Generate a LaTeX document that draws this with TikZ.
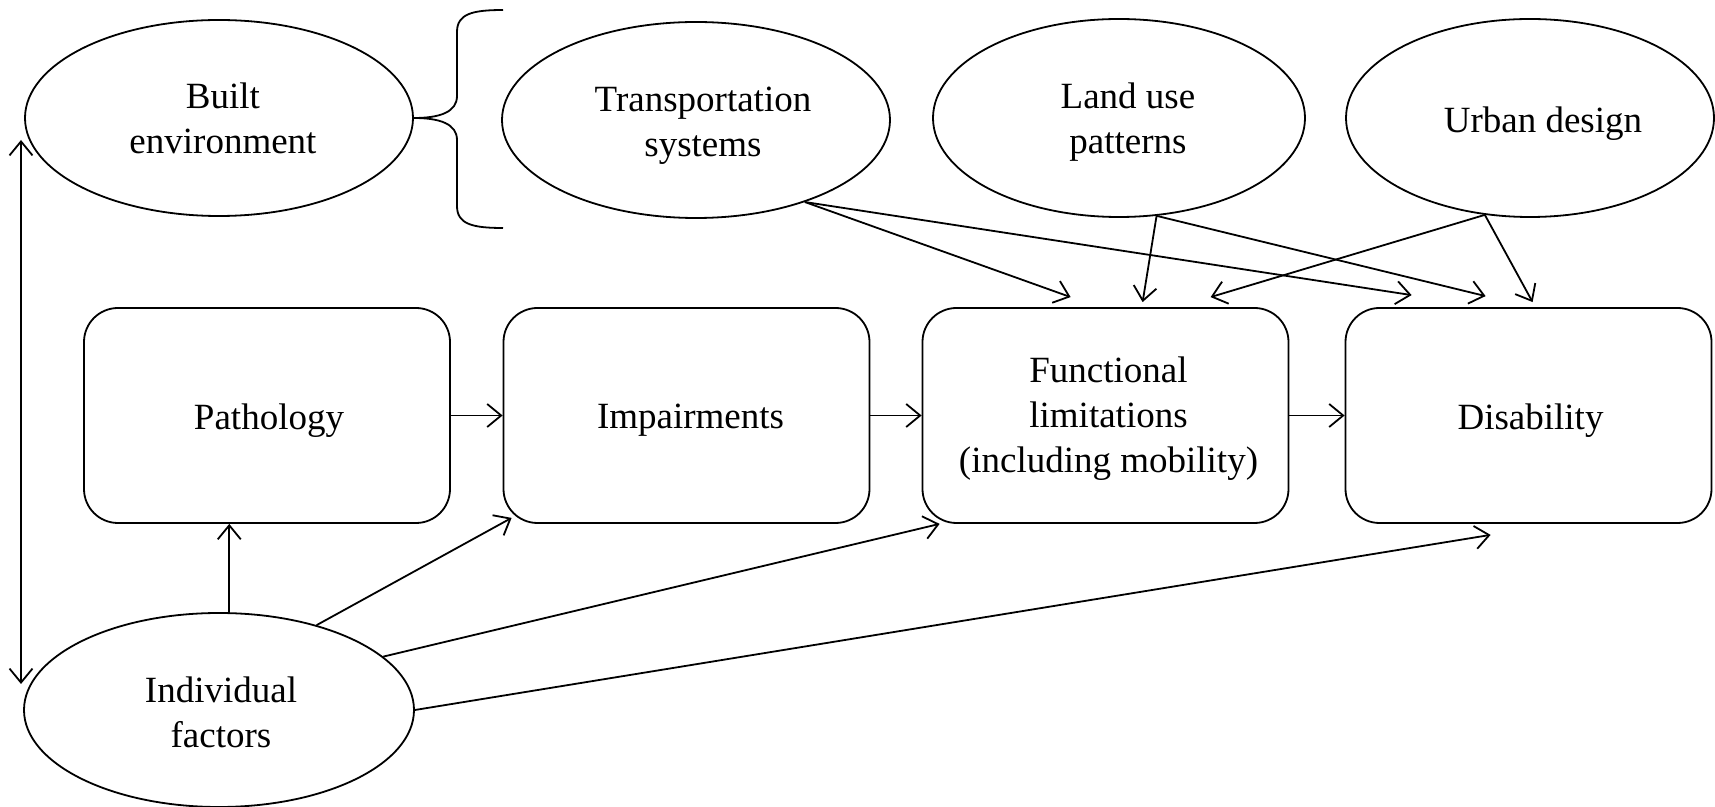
\documentclass[tikz,border=0pt]{standalone}
\usepackage{fontspec}
\setmainfont{Liberation Serif}
\usetikzlibrary{shapes.geometric,arrows.meta,calc}
\begin{document}
\begin{tikzpicture}[x=0.5pt,y=-0.5pt,line width=0.9pt,
  lbl/.style={font=\fontsize{18.5}{22.5}\selectfont,align=center,inner sep=0pt},
  ell/.style={draw,ellipse,inner sep=0pt},
  box/.style={draw,rounded corners=17pt,minimum width=183pt,minimum height=107.5pt,inner sep=0pt},
  arr/.style={-{Straight Barb[length=7pt,width=11.5pt]}},
  darr/.style={{Straight Barb[length=7pt,width=11.5pt]}-{Straight Barb[length=7pt,width=11.5pt]}}]
\useasboundingbox (0,0) rectangle (1715,807);

% ellipses
\node[ell,minimum width=194pt,minimum height=98pt] (built) at (219,118) {};
\node[ell,minimum width=194pt,minimum height=98pt] (trans) at (696,120) {};
\node[ell,minimum width=186pt,minimum height=99pt] (land) at (1119,118) {};
\node[ell,minimum width=184pt,minimum height=99pt] (urban) at (1530,118) {};
\node[ell,minimum width=195pt,minimum height=97pt] (indiv) at (219,710) {};

\node[lbl] (built-t) at ($(built.center)+(4,0)$) {Built\\environment};
\node[lbl] (trans-t) at ($(trans.center)+(7,5.5)$) {Transportation\\systems};
\node[lbl] (land-t) at ($(land.center)+(9,4)$) {Land use\\patterns};
\node[lbl] (urban-t) at ($(urban.center)+(13,5.5)$) {Urban design};
\node[lbl] (indiv-t) at ($(indiv.center)+(2,2.5)$) {Individual\\factors};

% boxes
\node[box] (path) at (267,415.5) {};
\node[box] (imp) at (686.5,415.5) {};
\node[box] (func) at (1105.5,415.5) {};
\node[box] (dis) at (1528.5,415.5) {};

\node[lbl] (path-t) at ($(path.center)+(2,5)$) {Pathology};
\node[lbl] (imp-t) at ($(imp.center)+(4,5)$) {Impairments};
\node[lbl] (func-t) at ($(func.center)+(3,3)$) {Functional\\limitations\\(including mobility)};
\node[lbl] (dis-t) at ($(dis.center)+(2,5)$) {Disability};

% brace
\draw (503,10) .. controls (472,10) and (457,14) .. (457,32) -- (457,96)
  .. controls (457,112) and (440,118) .. (built.east)
  .. controls (440,118) and (457,124) .. (457,140) -- (457,206)
  .. controls (457,224) and (472,228) .. (503,228);

% vertical double arrow
\coordinate (vtop) at (21,140);
\coordinate (vbot) at (21,684);
\draw[darr] (vtop) -- (vbot);

% main chain
\draw[arr] (path.east) -- (imp.west);
\draw[arr] (imp.east) -- (func.west);
\draw[arr] (func.east) -- (dis.west);

% individual factors
\draw[arr] (indiv.84) -- (indiv.84 |- path.south);
\draw[arr] (indiv.41) -- ($(imp.south west)+(9,-6)$);
\draw[arr] (indiv.18) -- ($(func.south west)+(18,0)$);
\draw[arr] (indiv.east) -- ($(dis.south west)+(146,11)$);

% built environment components
\draw[arr] (trans.-37) -- ($(func.north west)+(149,-10)$);
\draw[arr] (trans.-37) -- ($(dis.north west)+(67,-12)$);
\draw[arr] (land.-69) -- ($(func.north west)+(221,-5)$);
\draw[arr] (land.-69) -- ($(dis.north west)+(141,-11)$);
\draw[arr] (urban.-115) -- ($(func.north west)+(289,-10)$);
\draw[arr] (urban.-115) -- ($(dis.north west)+(188,-5)$);
\end{tikzpicture}
\end{document}
